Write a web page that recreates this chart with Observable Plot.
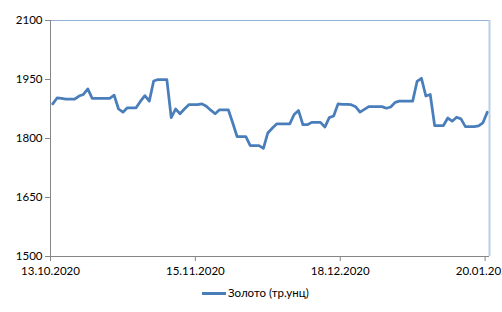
<!DOCTYPE html>
<html>
<head>
<meta charset="utf-8">
<script src="https://cdn.jsdelivr.net/npm/d3@7"></script>
<script src="https://cdn.jsdelivr.net/npm/@observablehq/plot@0.6"></script>
<style>
  html, body { margin: 0; padding: 0; background: #fff; overflow: hidden; width: 502px; height: 312px; }
  #legend { position: absolute; left: 0; top: 284px; width: 502px; height: 18px; font-family: Lato, "Liberation Sans", sans-serif; font-size: 11.5px; color: #000; }
  #legend .sw { position: absolute; left: 202px; top: 8px; width: 24px; height: 3px; background: #4A7EBB; }
  #legend .tx { position: absolute; left: 228px; top: 2px; white-space: nowrap; }
</style>
</head>
<body>
<div id="chart"></div>
<div id="legend"><span class="sw"></span><span class="tx">Золото (тр.унц)</span></div>
<script>
// Series: gold price, daily from 13.10.2020
const seriesName = "Золото (тр.унц)";
const startDate = "2020-10-13";
const values = [
  1888, 1903, 1902, 1900, 1900, 1900, 1908, 1912, 1926, 1902,
  1902, 1902, 1902, 1902, 1910, 1875, 1867, 1878, 1878, 1878,
  1895, 1909, 1895, 1946, 1950, 1950, 1950, 1853, 1875, 1863,
  1875, 1886, 1886, 1886, 1888, 1882, 1872, 1863, 1873, 1873,
  1873, 1840, 1805, 1805, 1805, 1782, 1782, 1782, 1775, 1814,
  1826, 1837, 1837, 1837, 1837, 1861, 1871, 1835, 1835, 1841,
  1841, 1841, 1829, 1853, 1857, 1888, 1887, 1887, 1886, 1881,
  1867, 1874, 1881, 1881, 1881, 1881, 1877, 1880, 1892, 1895,
  1895, 1895, 1895, 1945, 1953, 1908, 1912, 1833, 1833, 1833,
  1852, 1844, 1854, 1850, 1830, 1830, 1830, 1832, 1840, 1867
];
const xTickLabels = ["13.10.2020", "15.11.2020", "18.12.2020", "20.01.2021"];
const yTicks = [1500, 1650, 1800, 1950, 2100];

const parseDMY = d3.utcParse("%d.%m.%Y");
const fmtDMY = d3.utcFormat("%d.%m.%Y");
const start = d3.utcParse("%Y-%m-%d")(startDate);
const end = d3.utcDay.offset(start, values.length);
// Points sit in the middle of each day (date axis, between tick marks)
const data = values.map((v, i) => ({date: d3.utcHour.offset(d3.utcDay.offset(start, i), 12), value: v}));
const xTicks = xTickLabels.map(parseDMY);

const chart = Plot.plot({
  width: 502,
  height: 280,
  marginLeft: 50,
  marginRight: 13,
  marginTop: 20,
  marginBottom: 24,
  style: {fontFamily: "Lato, 'Liberation Sans', sans-serif", fontSize: "11.5px", color: "#000", background: "#fff", overflow: "visible"},
  x: {type: "utc", domain: [start, end], label: null},
  y: {domain: [1500, 2100], label: null},
  marks: [
    Plot.ruleY([2100], {stroke: "#95B3D7", strokeWidth: 1}),
    Plot.ruleX([end], {stroke: "#B9CDE5", strokeWidth: 2}),
    Plot.axisX({ticks: xTicks, tickFormat: fmtDMY, tickSize: 5, tickPadding: 5, stroke: "#868686", color: "#000", label: null}),
    Plot.axisY({ticks: yTicks, tickFormat: d => String(d), tickSize: 5, tickPadding: 3, stroke: "#868686", color: "#000", label: null}),
    Plot.ruleX([start], {stroke: "#868686"}),
    Plot.ruleY([1500], {stroke: "#868686"}),
    Plot.line(data, {x: "date", y: "value", stroke: "#4A7EBB", strokeWidth: 2.75, strokeLinejoin: "round", curve: "linear"})
  ]
});
document.getElementById("chart").appendChild(chart);
</script>
</body>
</html>
